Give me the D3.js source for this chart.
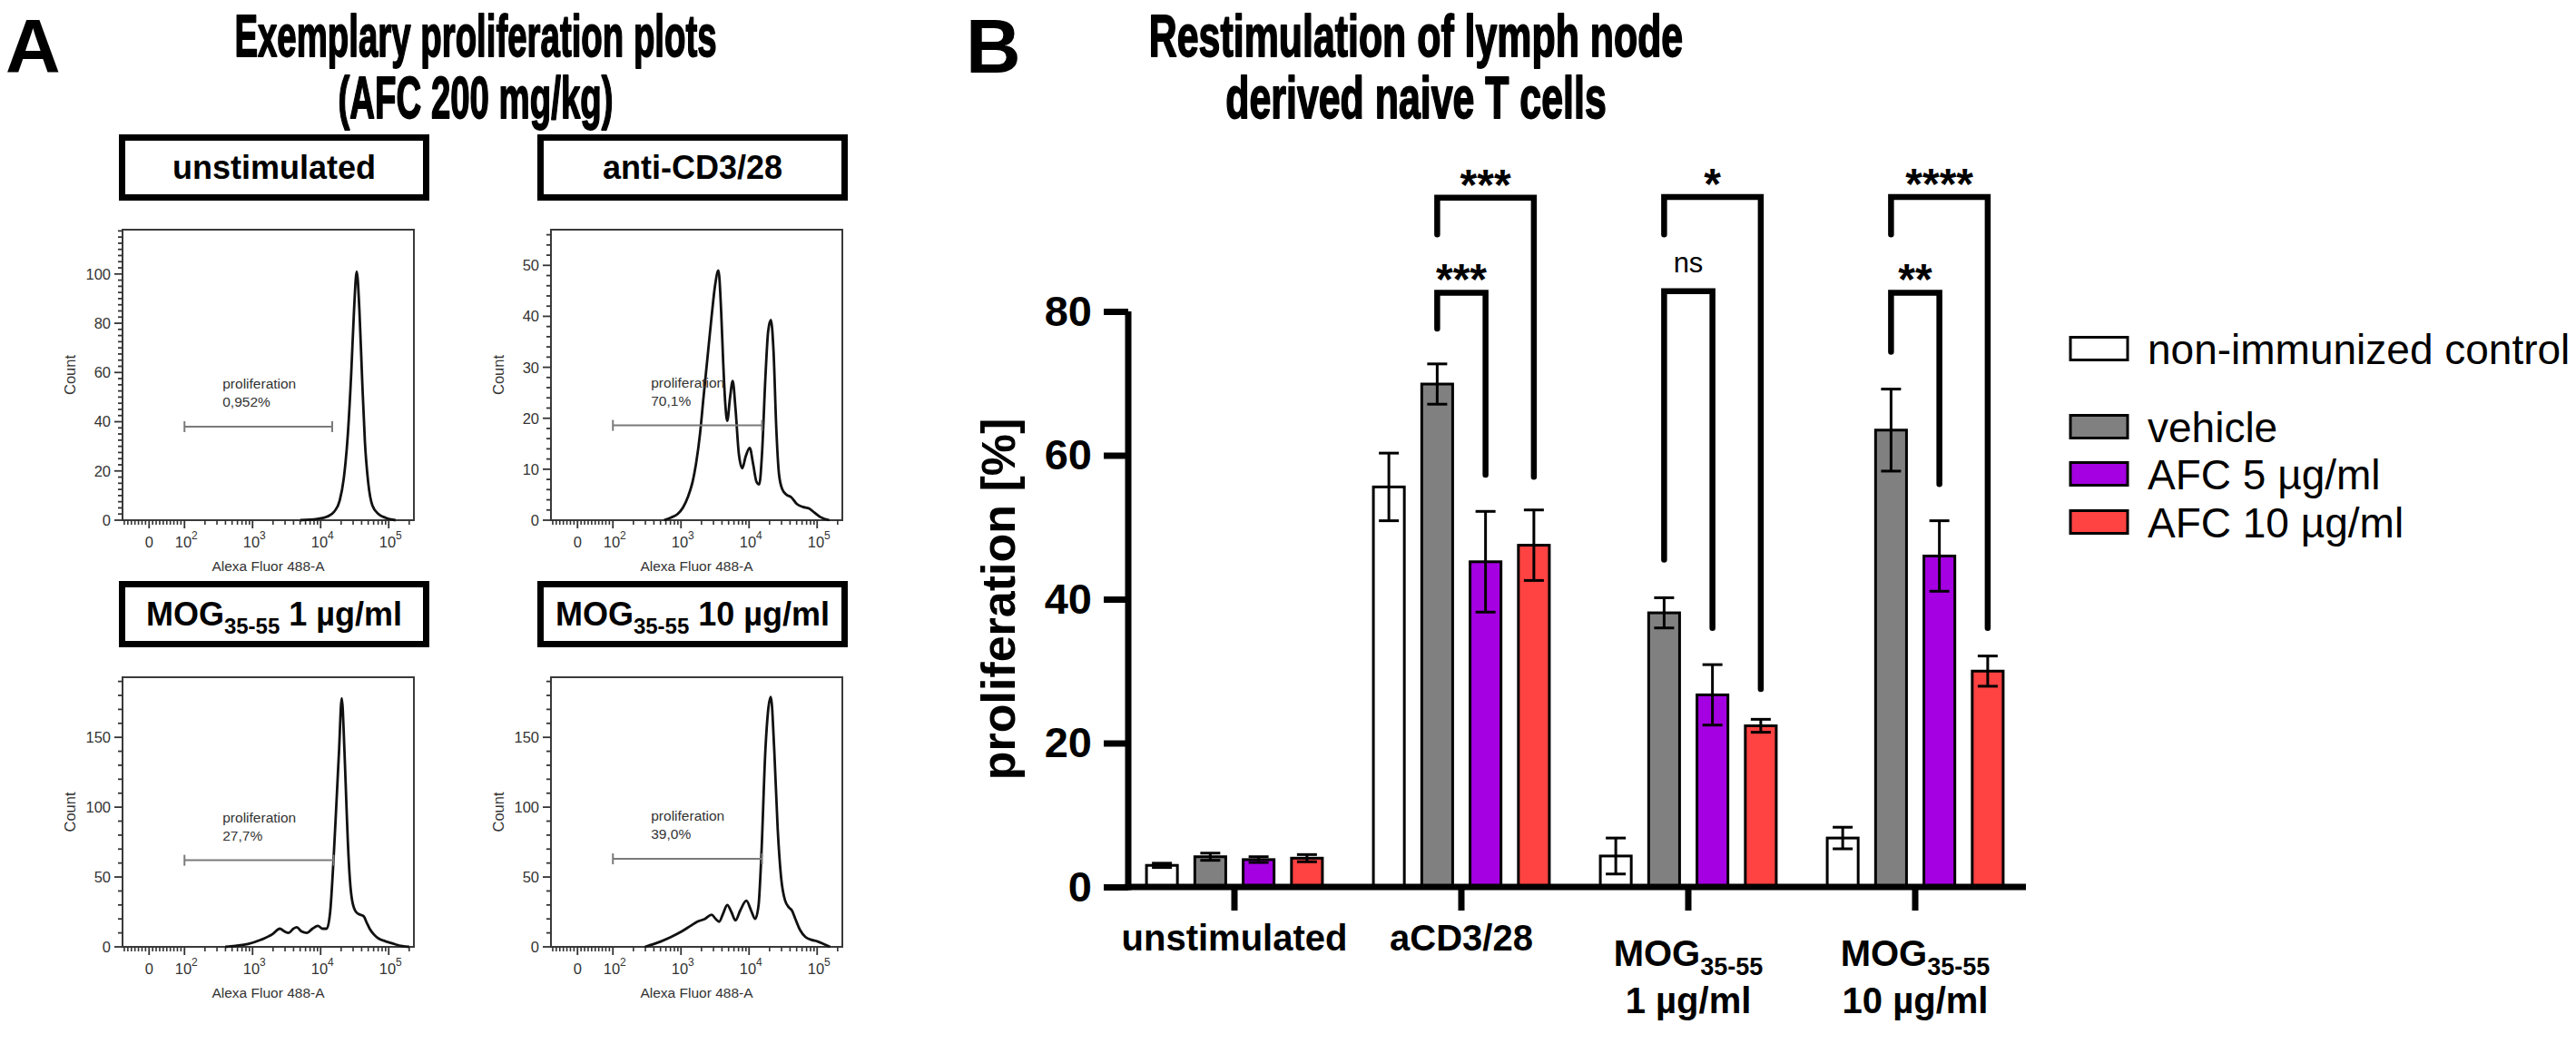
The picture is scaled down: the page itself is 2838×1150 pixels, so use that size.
<!DOCTYPE html>
<html><head><meta charset="utf-8">
<script src="https://cdn.jsdelivr.net/npm/d3@7"></script>
<style>
html,body{margin:0;padding:0;background:#fff;}
svg{display:block;}
text{font-family:"Liberation Sans",Arial,Helvetica,sans-serif;}
</style></head><body>
<svg id="fig" width="2838" height="1150"></svg>
<script>
// ================= DATA =================
// ---- Panel A: exemplary flow histograms (x in log10 decades of Alexa Fluor 488-A, y = count) ----
const histNames = ["unstimulated", "anti-CD3/28", "MOG", "MOG"];
const histNameSub = ["", "", "35-55", "35-55"];
const histNameRest = ["", "", " 1 µg/ml", " 10 µg/ml"];
const histYMax = [118, 57, 193, 193];
const histYMajor = [20, 10, 50, 50];
const histYMinor = [2.5, 2, 10, 10];
const histUnstim = [[3.7,0],[3.95,0.5],[4.1,1.5],[4.2,3.5],[4.28,8],[4.34,17],[4.40,35],[4.45,60],[4.49,85],[4.53,101],[4.57,85],[4.61,57],[4.65,32],[4.70,15],[4.76,6],[4.85,2.5],[4.95,1],[5.1,0]];
const histCD3 = [[2.75,0],[2.85,0.5],[2.95,1.2],[3.03,2.5],[3.10,4.5],[3.17,7.5],[3.22,11],[3.28,17],[3.33,24],[3.39,32],[3.45,40],[3.50,46],[3.55,49],[3.59,41],[3.62,31],[3.65,23],[3.68,19.5],[3.72,24],[3.76,27.3],[3.80,22],[3.85,13],[3.90,10.2],[3.95,12.5],[4.01,14.2],[4.06,11],[4.11,7.5],[4.15,7],[4.19,13],[4.24,28],[4.28,37],[4.32,39.3],[4.36,33],[4.40,18],[4.44,9],[4.49,6],[4.55,5],[4.62,4.5],[4.70,3.2],[4.79,2.6],[4.88,2.3],[4.96,1.5],[5.05,0.6],[5.18,0]];
const histMOG1 = [[2.6,0],[2.75,0.8],[2.93,2],[3.12,5],[3.29,9],[3.40,13],[3.47,11],[3.53,10],[3.60,13],[3.65,14],[3.72,11],[3.80,10],[3.88,13],[3.96,15],[4.03,13],[4.09,13],[4.14,25],[4.19,63],[4.23,101],[4.27,140],[4.31,178],[4.35,140],[4.38,100],[4.40,75],[4.43,48],[4.46,34],[4.52,25],[4.58,23],[4.63,22],[4.68,17],[4.72,13],[4.78,9],[4.85,6],[4.95,4],[5.05,2.5],[5.2,0.5],[5.3,0]];
const histMOG10 = [[2.47,0],[2.6,2],[2.71,4],[2.85,7],[3.01,11],[3.14,15],[3.24,18],[3.35,20],[3.45,23],[3.51,20],[3.56,18],[3.62,24],[3.68,30],[3.74,25],[3.80,19],[3.87,26],[3.96,33],[4.03,26],[4.09,20],[4.14,30],[4.18,65],[4.24,141],[4.32,179],[4.37,141],[4.42,85],[4.47,50],[4.53,33],[4.59,28],[4.63,26],[4.68,20],[4.75,12],[4.83,7],[4.92,5],[5.0,4],[5.1,2],[5.19,0]];
const histCurves = [histUnstim, histCD3, histMOG1, histMOG10];
const gateLow = [100, 100, 100, 100];
const gateHigh = [14800, 15500, 15500, 15500];
const gateCount = [38, 18.6, 62, 63];
const gateNames = ["proliferation", "proliferation", "proliferation", "proliferation"];
const gatePercents = ["0,952%", "70,1%", "27,7%", "39,0%"];
const fluorMajor = [0, 1e2, 1e3, 1e4, 1e5];
const fluorMajorExp = ["", "2", "3", "4", "5"];

// ---- Panel B: restimulation bar chart ----
const groups = ["unstimulated", "aCD3/28", "MOG35-55 1 µg/ml", "MOG35-55 10 µg/ml"];
const groupLine1 = ["unstimulated", "aCD3/28", "MOG", "MOG"];
const groupLine1Sub = ["", "", "35-55", "35-55"];
const groupLine2 = ["", "", "1 µg/ml", "10 µg/ml"];
const series = ["non-immunized control", "vehicle", "AFC 5 µg/ml", "AFC 10 µg/ml"];
const meanControl = [3.0, 55.6, 4.3, 6.8];
const meanVehicle = [4.2, 69.9, 38.1, 63.5];
const meanAFC5 = [3.8, 45.2, 26.7, 46.0];
const meanAFC10 = [4.0, 47.5, 22.4, 30.0];
const errControl = [0.3, 4.7, 2.5, 1.5];
const errVehicle = [0.5, 2.8, 2.1, 5.7];
const errAFC5 = [0.4, 7.0, 4.2, 4.9];
const errAFC10 = [0.5, 4.9, 0.9, 2.1];
const yTicksB = [0, 20, 40, 60, 80];
// significance brackets
const brGroup = [1, 1, 2, 2, 3, 3];
const brFrom = [1, 1, 1, 1, 1, 1];
const brTo = [2, 3, 2, 3, 2, 3];
const brTop = [82.6, 95.8, 82.8, 95.9, 82.6, 95.9];
const brLeftEnd = [77.6, 90.7, 45.5, 90.7, 74.4, 90.7];
const brRightEnd = [57.3, 57.0, 36.0, 27.5, 56.0, 36.0];
const brLabel = ["***", "***", "ns", "*", "**", "****"];

// ================= DRAW =================
const svg = d3.select("#fig");
const colors = ["#ffffff", "#808080", "#a400e2", "#ff4242"];

// panel letters and titles
svg.append("text").attr("x", 6).attr("y", 80).attr("font-size", 84).attr("font-weight", "bold").text("A");
svg.append("text").attr("x", 1064).attr("y", 80).attr("font-size", 84).attr("font-weight", "bold").text("B");
const titleA = ["Exemplary proliferation plots", "(AFC 200 mg/kg)"];
const titleB = ["Restimulation of lymph node", "derived naive T cells"];
function title(lines, cx, sx) {
  lines.forEach((t, i) => svg.append("text")
    .attr("transform", `translate(${cx},${62 + 68 * i}) scale(${sx},1)`)
    .attr("text-anchor", "middle").attr("font-size", 64).attr("font-weight", "bold")
    .attr("stroke", "#000").attr("stroke-width", 1.8).attr("stroke-linejoin", "round").text(t));
}
title(titleA, 524, 0.6);
title(titleB, 1560, 0.67);

// ---------- Panel A ----------
const frameLeft = [135, 607], frameTop = [253, 746], frameBottom = [573, 1043], frameW = 321;
const boxLeft = [131, 592], boxTop = [148, 640], boxW = 342, boxH = 73;
const toDecade = v => v >= 100 ? Math.log10(v) : 1.48 + 0.52 * v / 100;
const histCol = [0, 1, 0, 1], histRow = [0, 0, 1, 1];
const histText = "#333";

histCurves.forEach((curve, i) => {
  const c = histCol[i], r = histRow[i];
  const L = frameLeft[c], T = frameTop[r], B = frameBottom[r], R = L + frameW;
  const g = svg.append("g");
  // title box
  g.append("rect").attr("x", boxLeft[c] + 3.5).attr("y", boxTop[r] + 3.5)
    .attr("width", boxW - 7).attr("height", boxH - 7)
    .attr("fill", "none").attr("stroke", "#000").attr("stroke-width", 7);
  const bt = g.append("text").attr("x", boxLeft[c] + boxW / 2).attr("y", boxTop[r] + 49)
    .attr("text-anchor", "middle").attr("font-size", 36).attr("font-weight", "bold");
  bt.append("tspan").text(histNames[i]);
  if (histNameSub[i]) {
    bt.append("tspan").attr("font-size", 24).attr("dy", 9).text(histNameSub[i]);
    bt.append("tspan").attr("dy", -9).text(histNameRest[i]);
  }
  // scales
  const x = d3.scaleLinear().domain([1.09, 5.37]).range([L, R]);
  const y = d3.scaleLinear().domain([0, histYMax[i]]).range([B, T]);
  // frame
  g.append("rect").attr("x", L).attr("y", T).attr("width", frameW).attr("height", B - T)
    .attr("fill", "none").attr("stroke", "#3a3a3a").attr("stroke-width", 2);
  // y ticks
  const yMinorVals = d3.range(0, histYMax[i] + 0.001, histYMinor[i]);
  yMinorVals.forEach(v => {
    const major = Math.abs(v / histYMajor[i] - Math.round(v / histYMajor[i])) < 1e-6;
    g.append("line").attr("x1", L).attr("x2", L - (major ? 9 : 5)).attr("y1", y(v)).attr("y2", y(v))
      .attr("stroke", "#333").attr("stroke-width", 1.8);
    if (major) g.append("text").attr("x", L - 13).attr("y", y(v)).attr("dy", "0.36em")
      .attr("text-anchor", "end").attr("font-size", 16.5).attr("fill", histText).text(v);
  });
  // x ticks
  const xMinor = d3.range(-70, 100, 10).filter(v => v !== 0)
    .concat([1e2, 1e3, 1e4].flatMap(b => d3.range(2, 10).map(k => k * b)), [2e5]);
  xMinor.forEach(v => {
    const d = toDecade(v);
    if (d < 1.09 || d > 5.37) return;
    g.append("line").attr("x1", x(d)).attr("x2", x(d)).attr("y1", B).attr("y2", B + 5)
      .attr("stroke", "#333").attr("stroke-width", 1.6);
  });
  fluorMajor.forEach((v, k) => {
    const d = toDecade(v);
    g.append("line").attr("x1", x(d)).attr("x2", x(d)).attr("y1", B).attr("y2", B + 9)
      .attr("stroke", "#333").attr("stroke-width", 1.8);
    const t = g.append("text").attr("x", x(d) + (k ? 2 : 0)).attr("y", B + 30)
      .attr("text-anchor", "middle").attr("font-size", 16.5).attr("fill", histText);
    if (k === 0) t.text("0");
    else { t.append("tspan").text("10"); t.append("tspan").attr("font-size", 12).attr("dy", -9).text(fluorMajorExp[k]); }
  });
  g.append("text").attr("x", (L + R) / 2).attr("y", B + 56).attr("text-anchor", "middle")
    .attr("font-size", 15.5).attr("fill", histText).text("Alexa Fluor 488-A");
  g.append("text").attr("transform", `translate(${L - 52},${(T + B) / 2}) rotate(-90)`)
    .attr("text-anchor", "middle").attr("font-size", 16.5).attr("fill", histText).text("Count");
  // curve
  const line = d3.line().x(p => x(p[0])).y(p => y(p[1])).curve(d3.curveMonotoneX);
  g.append("path").datum(curve).attr("d", line).attr("fill", "none")
    .attr("stroke", "#111").attr("stroke-width", 2.8).attr("stroke-linejoin", "round");
  // gate
  const gx1 = x(toDecade(gateLow[i])), gx2 = x(toDecade(gateHigh[i])), gy = y(gateCount[i]);
  g.append("line").attr("x1", gx1).attr("x2", gx2).attr("y1", gy).attr("y2", gy)
    .attr("stroke", "#7a7a7a").attr("stroke-width", 2);
  [gx1, gx2].forEach(xx => g.append("line").attr("x1", xx).attr("x2", xx).attr("y1", gy - 6).attr("y2", gy + 6)
    .attr("stroke", "#7a7a7a").attr("stroke-width", 2));
  const tx = x(2.56);
  g.append("text").attr("x", tx).attr("y", gy - 42).attr("font-size", 15.5).attr("fill", histText).text(gateNames[i]);
  g.append("text").attr("x", tx).attr("y", gy - 22).attr("font-size", 15.5).attr("fill", histText).text(gatePercents[i]);
});

// ---------- Panel B ----------
const x0 = d3.scaleBand().domain(groups).range([1235, 2235]);
const x1 = d3.scaleBand().domain(series).range([-106.5, 106.5]).paddingInner(0.36).paddingOuter(0.18);
const yB = d3.scaleLinear().domain([0, 80]).range([977, 343]);
const gc = gName => x0(gName) + x0.bandwidth() / 2;
const means = [meanControl, meanVehicle, meanAFC5, meanAFC10];
const errs = [errControl, errVehicle, errAFC5, errAFC10];
const gB = svg.append("g");

series.forEach((s, si) => {
  groups.forEach((gn, gi) => {
    const v = means[si][gi], e = errs[si][gi];
    const bx = gc(gn) + x1(s), bw = x1.bandwidth(), mx = bx + bw / 2;
    gB.append("rect").attr("x", bx).attr("y", yB(v)).attr("width", bw).attr("height", yB(0) - yB(v))
      .attr("fill", colors[si]).attr("stroke", "#000").attr("stroke-width", 3);
    gB.append("line").attr("x1", mx).attr("x2", mx).attr("y1", yB(v - e)).attr("y2", yB(v + e))
      .attr("stroke", "#000").attr("stroke-width", 3);
    [v - e, v + e].forEach(ev => gB.append("line").attr("x1", mx - 11).attr("x2", mx + 11)
      .attr("y1", yB(ev)).attr("y2", yB(ev)).attr("stroke", "#000").attr("stroke-width", 3));
  });
});

// axes
const yAxis = gB.append("g").attr("transform", "translate(1243,0)")
  .call(d3.axisLeft(yB).tickValues(yTicksB).tickSize(27).tickPadding(13).tickSizeOuter(0));
yAxis.select(".domain").remove();
yAxis.selectAll(".tick line").attr("stroke", "#000").attr("stroke-width", 7);
yAxis.selectAll(".tick text").attr("font-size", 47).attr("font-weight", "bold").attr("fill", "#000")
  .attr("font-family", '"Liberation Sans",Arial,sans-serif');
gB.append("line").attr("x1", 1243).attr("x2", 1243).attr("y1", yB(80)).attr("y2", yB(0) + 3.5)
  .attr("stroke", "#000").attr("stroke-width", 7);

const xAxis = gB.append("g").attr("transform", `translate(0,${yB(0)})`)
  .call(d3.axisBottom(x0).tickSize(26).tickFormat(""));
xAxis.select(".domain").remove();
xAxis.selectAll(".tick line").attr("stroke", "#000").attr("stroke-width", 7);
gB.append("line").attr("x1", 1239.5).attr("x2", 2232).attr("y1", yB(0)).attr("y2", yB(0))
  .attr("stroke", "#000").attr("stroke-width", 7);

groups.forEach((gn, gi) => {
  const twoLine = !!groupLine2[gi];
  const t = gB.append("text").attr("x", gc(gn)).attr("y", twoLine ? 1064 : 1047).attr("text-anchor", "middle")
    .attr("font-size", 40).attr("font-weight", "bold");
  t.append("tspan").text(groupLine1[gi]);
  if (groupLine1Sub[gi]) t.append("tspan").attr("font-size", 27).attr("dy", 10).text(groupLine1Sub[gi]);
  if (twoLine) gB.append("text").attr("x", gc(gn)).attr("y", 1116).attr("text-anchor", "middle")
    .attr("font-size", 40).attr("font-weight", "bold").text(groupLine2[gi]);
});

gB.append("text").attr("transform", `translate(1118,${(yB(0) + yB(80)) / 2}) rotate(-90)`)
  .attr("text-anchor", "middle").attr("font-size", 52).attr("font-weight", "bold").text("proliferation [%]");

// brackets
brGroup.forEach((gi, k) => {
  const gn = groups[gi];
  const xa = gc(gn) + x1(series[brFrom[k]]) + x1.bandwidth() / 2;
  const xb = gc(gn) + x1(series[brTo[k]]) + x1.bandwidth() / 2;
  const yt = yB(brTop[k]);
  gB.append("path")
    .attr("d", `M${xa},${yB(brLeftEnd[k])}V${yt}H${xb}V${yB(brRightEnd[k])}`)
    .attr("fill", "none").attr("stroke", "#000").attr("stroke-width", 6.5)
    .attr("stroke-linecap", "round").attr("stroke-linejoin", "miter");
  const isNs = brLabel[k] === "ns";
  gB.append("text").attr("x", (xa + xb) / 2).attr("y", isNs ? yt - 21 : yt + 2)
    .attr("text-anchor", "middle").attr("font-size", isNs ? 31 : 48)
    .attr("font-weight", isNs ? "normal" : "bold").text(brLabel[k]);
});

// legend
const legendY = [384, 470, 522, 575];
series.forEach((s, si) => {
  gB.append("rect").attr("x", 2281).attr("y", legendY[si] - 12.5).attr("width", 63).attr("height", 25)
    .attr("fill", colors[si]).attr("stroke", "#000").attr("stroke-width", 3);
  gB.append("text").attr("x", 2366).attr("y", legendY[si]).attr("dy", "0.36em")
    .attr("font-size", 46).text(s);
});
</script>
</body></html>
